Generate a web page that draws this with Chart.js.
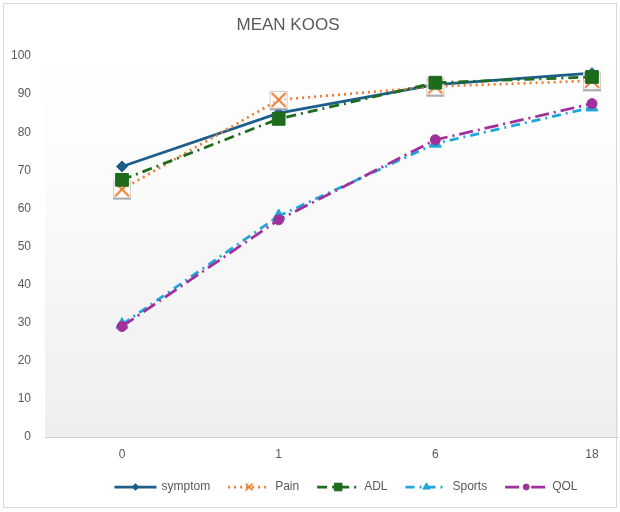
<!DOCTYPE html>
<html>
<head>
<meta charset="utf-8">
<script src="https://cdn.jsdelivr.net/npm/chart.js@4/dist/chart.umd.min.js"></script>
<style>
  html, body { margin: 0; padding: 0; background: #fff; overflow: hidden; }
  #wrap { width: 620px; height: 512px; position: relative; }
</style>
</head>
<body>
<div id="wrap"><canvas id="koosChart"></canvas></div>
<script>
const months = ['0', '1', '6', '18'];
const yTicks = [0, 10, 20, 30, 40, 50, 60, 70, 80, 90, 100];

const symptom = [71, 85, 92.5, 95.5];
const pain = [65, 88.5, 92, 93.5];
const adl = [67.5, 83.5, 93, 94.5];
const sports = [29.5, 58, 77, 86.5];
const qol = [29, 57, 78, 87.5];

const textColor = '#595959';
const fontFamily = '"Liberation Sans", Arial, sans-serif';

function toPoints(values) {
    return values.map(function (v, i) { return { x: i, y: v }; });
}

// Pain marker: orange X inside a faint grey box, like the Excel original
function boxedCross(color) {
    const c = document.createElement('canvas');
    c.width = 22;
    c.height = 22;
    const g = c.getContext('2d');
    g.fillStyle = 'rgba(255,255,255,0.6)';
    g.fillRect(2, 2, 18, 18);
    g.strokeStyle = '#cfcfcf';
    g.lineWidth = 1;
    g.strokeRect(2.5, 2.5, 17, 17);
    g.strokeStyle = '#9a9a9a';
    g.lineWidth = 1.5;
    g.beginPath();
    g.moveTo(2, 20.5);
    g.lineTo(20, 20.5);
    g.stroke();
    g.strokeStyle = color;
    g.lineWidth = 2;
    g.beginPath();
    g.moveTo(4, 4);
    g.lineTo(18, 18);
    g.moveTo(18, 4);
    g.lineTo(4, 18);
    g.stroke();
    return c;
}

const series = [
    { label: 'symptom', data: symptom, color: '#1c5d8c', dash: [], style: 'rectRot', radius: 5.5, width: 2.75 },
    { label: 'Pain', data: pain, color: '#ed7d31', dash: [2, 4], style: 'crossRot', radius: 8, width: 2.75 },
    { label: 'ADL', data: adl, color: '#1d6b1d', dash: [10, 5, 2, 5], style: 'rect', radius: 9, width: 2.75 },
    { label: 'Sports', data: sports, color: '#1ea7dc', dash: [9, 5, 2, 5], style: 'triangle', radius: 7, width: 2.75 },
    { label: 'QOL', data: qol, color: '#a2309c', dash: [14, 5, 2, 5], style: 'circle', radius: 5, width: 2.75 }
];

const frame = {
    id: 'frame',
    beforeDraw(chart) {
        const ctx = chart.ctx;
        const a = chart.chartArea;
        ctx.save();
        ctx.fillStyle = '#ffffff';
        ctx.fillRect(0, 0, chart.width, chart.height);
        const g = ctx.createLinearGradient(0, 40, 0, a.bottom);
        g.addColorStop(0, '#ffffff');
        g.addColorStop(0.35, '#fbfbfb');
        g.addColorStop(1, '#eeeeee');
        ctx.fillStyle = g;
        ctx.fillRect(a.left, 40, a.right - a.left, a.bottom - 40);
        ctx.strokeStyle = '#d9d9d9';
        ctx.lineWidth = 1;
        ctx.strokeRect(3.5, 3.5, 613, 504);
        ctx.fillStyle = textColor;
        ctx.font = '17px ' + fontFamily;
        ctx.textAlign = 'center';
        ctx.textBaseline = 'middle';
        ctx.fillText('MEAN KOOS', 288, 25);
        ctx.restore();
    }
};

// x labels drawn at the scale's own pixel positions
const monthLabels = {
    id: 'monthLabels',
    afterDraw(chart) {
        const ctx = chart.ctx;
        const xs = chart.scales.x;
        ctx.save();
        ctx.fillStyle = textColor;
        ctx.font = '12px ' + fontFamily;
        ctx.textAlign = 'center';
        ctx.textBaseline = 'middle';
        months.forEach(function (m, i) {
            ctx.fillText(m, xs.getPixelForValue(i), chart.chartArea.bottom + 18);
        });
        ctx.restore();
    }
};

const lineLegend = {
    id: 'lineLegend',
    afterDraw(chart) {
        const ctx = chart.ctx;
        const segLen = 42, gap = 5, spacing = 18, cy = 487;
        ctx.save();
        ctx.font = '12px ' + fontFamily;
        const widths = series.map(function (s) { return ctx.measureText(s.label).width; });
        let total = 0;
        widths.forEach(function (w) { total += segLen + gap + w; });
        total += spacing * (series.length - 1);
        let x = 346 - total / 2;
        series.forEach(function (s, i) {
            ctx.strokeStyle = s.color;
            ctx.lineWidth = s.width;
            ctx.setLineDash(s.dash);
            ctx.beginPath();
            ctx.moveTo(x, cy);
            ctx.lineTo(x + segLen, cy);
            ctx.stroke();
            ctx.setLineDash([]);
            ctx.fillStyle = s.color;
            ctx.strokeStyle = s.color;
            ctx.lineWidth = s.style === 'crossRot' ? 1.5 : 1;
            Chart.helpers.drawPoint(ctx, {
                pointStyle: s.style,
                radius: s.radius * 0.6,
                borderWidth: ctx.lineWidth
            }, x + segLen / 2, cy);
            ctx.fillStyle = textColor;
            ctx.textAlign = 'left';
            ctx.textBaseline = 'middle';
            ctx.fillText(s.label, x + segLen + gap, cy);
            x += segLen + gap + widths[i] + spacing;
        });
        ctx.restore();
    }
};

new Chart(document.getElementById('koosChart').getContext('2d'), {
    type: 'line',
    data: {
        datasets: series.map(function (s, i) {
            return {
                label: s.label,
                data: toPoints(s.data),
                borderColor: s.color,
                backgroundColor: s.color,
                borderWidth: s.width,
                borderDash: s.dash,
                pointStyle: s.style === 'crossRot' ? boxedCross(s.color) : s.style,
                pointRadius: s.radius,
                pointBorderColor: s.color,
                pointBackgroundColor: s.color,
                pointBorderWidth: s.style === 'crossRot' ? 2 : 1,
                tension: 0,
                fill: false,
                clip: false,
                order: series.length - i
            };
        })
    },
    options: {
        responsive: true,
        maintainAspectRatio: false,
        animation: false,
        layout: { autoPadding: false, padding: { left: 10, right: 2, top: 56, bottom: 45 } },
        plugins: {
            legend: { display: false },
            title: { display: false },
            tooltip: { enabled: false }
        },
        scales: {
            x: {
                type: 'linear',
                min: -0.4915,
                max: 3.166,
                grid: { display: false, drawTicks: false },
                border: { color: '#d0d0d0', width: 1 },
                afterFit: function (scale) { scale.height = 30; },
                ticks: { display: false }
            },
            y: {
                min: 0,
                max: 100,
                grid: { display: false, drawTicks: false },
                border: { display: false },
                afterBuildTicks: function (scale) {
                    scale.ticks = yTicks.map(function (t) { return { value: t }; });
                },
                afterFit: function (scale) { scale.width = 35; },
                ticks: {
                    color: textColor,
                    font: { size: 12, family: fontFamily },
                    padding: 14
                }
            }
        }
    },
    plugins: [frame, monthLabels, lineLegend]
});
</script>
</body>
</html>
